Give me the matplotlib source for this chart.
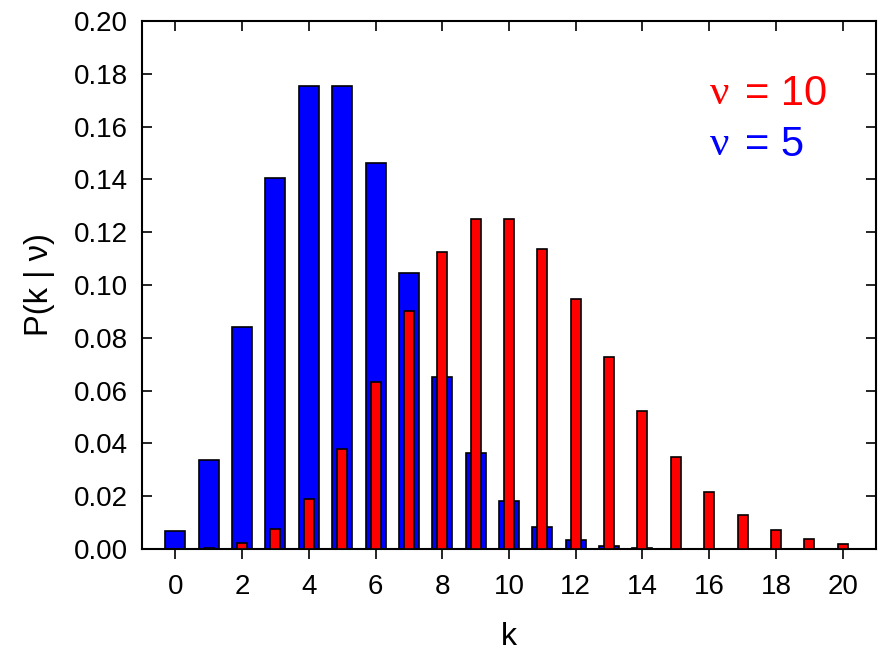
import numpy as np
import matplotlib.pyplot as plt

plt.rcParams['font.family'] = ['Liberation Sans', 'DejaVu Sans']

k5 = list(range(0, 15))
p5 = [0.0067, 0.0337, 0.0842, 0.1404, 0.1755, 0.1755, 0.1462, 0.1044,
      0.0653, 0.0363, 0.0181, 0.0082, 0.0034, 0.0013, 0.0005]
k10 = list(range(0, 21))
p10 = [0.00005, 0.0005, 0.0023, 0.0076, 0.0189, 0.0378, 0.0631, 0.0901,
       0.1126, 0.1251, 0.1251, 0.1137, 0.0948, 0.0729, 0.0521, 0.0347,
       0.0217, 0.0128, 0.0071, 0.0037, 0.0019]
xticks = list(range(0, 21, 2))
yticks = [0.00, 0.02, 0.04, 0.06, 0.08, 0.10, 0.12, 0.14, 0.16, 0.18, 0.20]

fig = plt.figure(figsize=(8.83, 6.52), dpi=100)
ax = fig.add_axes([142 / 883, 1 - 549 / 652, (876 - 142) / 883, (549 - 21) / 652])

ax.bar(k5, p5, width=0.6, color='#0000ff', edgecolor='black', linewidth=1.2, zorder=2)
ax.bar(k10, p10, width=0.3, color='#ff0000', edgecolor='black', linewidth=1.2, zorder=3)

ax.set_xlim(-1, 21)
ax.set_ylim(0, 0.2)
ax.set_xticks(xticks)
ax.set_yticks(yticks)
ax.set_yticklabels(['%.2f' % v for v in yticks])
ax.tick_params(axis='both', labelsize=20, width=1.2, length=7)
ax.tick_params(axis='x', direction='out', top=True, pad=11)
ax.tick_params(axis='y', direction='in', right=True, pad=10)
for s in ax.spines.values():
    s.set_linewidth(1.5)

# top ticks point inward
for t in ax.xaxis.get_major_ticks():
    t.tick2line.set_marker(3)

ax.set_xlabel('k', fontsize=23, labelpad=16)
ax.set_ylabel('P(k | ν)', fontsize=23.5, labelpad=14)

ax.text(0.774, 0.862, 'ν', transform=ax.transAxes, color='red', fontsize=31,
        family='Liberation Serif', va='center', ha='left')
ax.text(0.8215, 0.862, '= 10', transform=ax.transAxes, color='red', fontsize=30,
        va='center', ha='left')
ax.text(0.774, 0.765, 'ν', transform=ax.transAxes, color='blue', fontsize=31,
        family='Liberation Serif', va='center', ha='left')
ax.text(0.8215, 0.765, '= 5', transform=ax.transAxes, color='blue', fontsize=30,
        va='center', ha='left')

fig.savefig('out.png', dpi=100)
